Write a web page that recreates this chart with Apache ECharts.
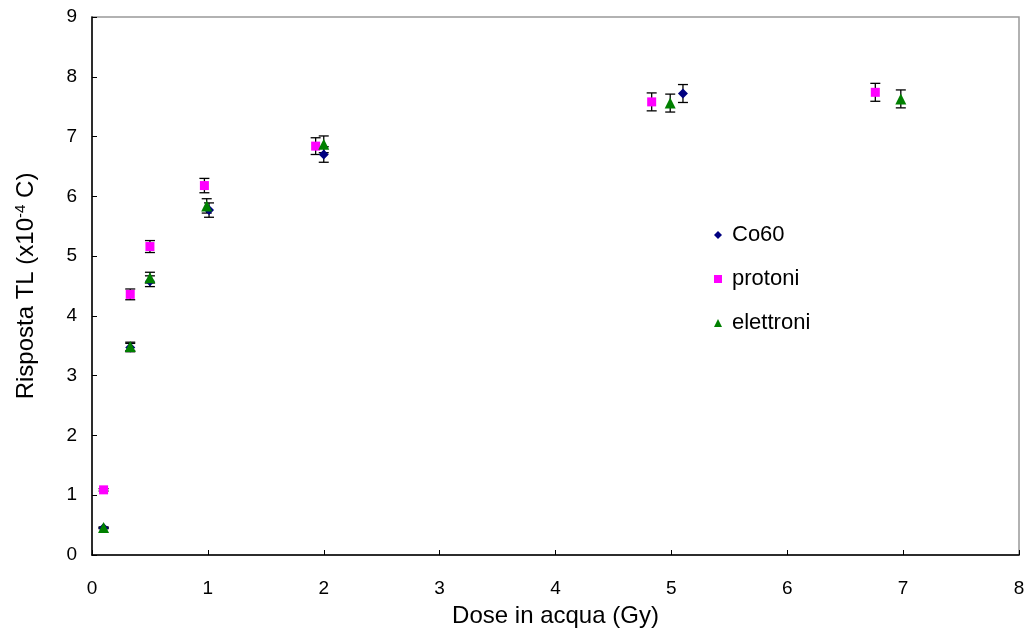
<!DOCTYPE html>
<html>
<head>
<meta charset="utf-8">
<script src="https://cdn.jsdelivr.net/npm/echarts@6/dist/echarts.min.js"></script>
<style>html,body{margin:0;padding:0;background:#fff}#c{width:1030px;height:638px}</style>
</head>
<body>
<div id="c"></div>
<script>
var co60X = [0.10, 0.33, 0.50, 1.01, 2.00, 5.10];
var co60Y = [0.45, 3.47, 4.58, 5.77, 6.70, 7.72];
var co60Err = [0.01, 0.07, 0.09, 0.12, 0.13, 0.15];

var protoniX = [0.10, 0.33, 0.50, 0.97, 1.93, 4.83, 6.76];
var protoniY = [1.09, 4.36, 5.16, 6.18, 6.84, 7.58, 7.74];
var protoniErr = [0.02, 0.09, 0.10, 0.12, 0.14, 0.15, 0.15];

var elettroniX = [0.10, 0.33, 0.50, 0.99, 2.00, 4.99, 6.98];
var elettroniY = [0.46, 3.49, 4.64, 5.84, 6.87, 7.56, 7.63];
var elettroniErr = [0.01, 0.07, 0.09, 0.12, 0.14, 0.15, 0.15];

var xTicks = [0, 1, 2, 3, 4, 5, 6, 7, 8];
var yTicks = [0, 1, 2, 3, 4, 5, 6, 7, 8, 9];

function pts(xs, ys) { return xs.map(function (x, i) { return [x, ys[i]]; }); }
function errPts(xs, ys, es) { return xs.map(function (x, i) { return [x, ys[i], es[i]]; }); }

function errSeries(data) {
  return {
    type: 'custom',
    z: 1,
    silent: true,
    renderItem: function (params, api) {
      var x = api.value(0), y = api.value(1), e = api.value(2);
      var hi = api.coord([x, y + e]);
      var lo = api.coord([x, y - e]);
      var w = 5;
      var st = { stroke: '#000', lineWidth: 1.3 };
      return {
        type: 'group',
        children: [
          { type: 'line', shape: { x1: hi[0], y1: hi[1], x2: lo[0], y2: lo[1] }, style: st },
          { type: 'line', shape: { x1: hi[0] - w, y1: hi[1], x2: hi[0] + w, y2: hi[1] }, style: st },
          { type: 'line', shape: { x1: lo[0] - w, y1: lo[1], x2: lo[0] + w, y2: lo[1] }, style: st }
        ]
      };
    },
    data: data
  };
}

var chart = echarts.init(document.getElementById('c'), null, { renderer: 'canvas' });
var font = 'Liberation Sans, Arial, sans-serif';
chart.setOption({
  animation: false,
  backgroundColor: '#fff',
  textStyle: { fontFamily: font },
  grid: { left: 92, right: 11, top: 17, bottom: 83, show: true, borderColor: '#999', borderWidth: 1.5 },
  legend: {
    orient: 'vertical', left: 709, top: 219, itemGap: 22, itemWidth: 8, itemHeight: 8,
    textStyle: { fontSize: 22, color: '#000', fontFamily: font, padding: [0, 0, 0, 5] },
    data: ['Co60', 'protoni', 'elettroni']
  },
  xAxis: {
    type: 'value', min: 0, max: 8, interval: 1,
    name: 'Dose in acqua (Gy)', nameLocation: 'middle', nameGap: 49,
    nameTextStyle: { fontSize: 24, color: '#000', fontFamily: font },
    axisLine: { lineStyle: { color: '#000', width: 1.5 } },
    axisTick: { inside: true, length: 5, lineStyle: { color: '#000' } },
    axisLabel: { fontSize: 19, color: '#000', margin: 24, fontFamily: font,
      formatter: function (v) { return xTicks.indexOf(v) >= 0 ? String(v) : ''; } },
    splitLine: { show: false }
  },
  yAxis: {
    type: 'value', min: 0, max: 9, interval: 1,
    name: '{n|Risposta TL (x10}{s|-4}{n| C)}', nameLocation: 'middle', nameGap: 52,
    nameTextStyle: { rich: { n: { fontSize: 24, color: '#000', fontFamily: font }, s: { fontSize: 15, color: '#000', fontFamily: font, verticalAlign: 'top', padding: [0, 0, 12, 0] } } },
    axisLine: { lineStyle: { color: '#000', width: 1.5 } },
    axisTick: { inside: true, length: 5, lineStyle: { color: '#000' } },
    axisLabel: { fontSize: 19, color: '#000', margin: 15, fontFamily: font,
      formatter: function (v) { return yTicks.indexOf(v) >= 0 ? String(v) : ''; } },
    splitLine: { show: false }
  },
  series: [
    { name: 'Co60', type: 'scatter', symbol: 'diamond', symbolSize: 10, itemStyle: { color: '#000080', opacity: 1 }, z: 2, data: pts(co60X, co60Y) },
    { name: 'protoni', type: 'scatter', symbol: 'rect', symbolSize: 9, itemStyle: { color: '#FF00FF', opacity: 1 }, z: 3, data: pts(protoniX, protoniY) },
    { name: 'elettroni', type: 'scatter', symbol: 'triangle', symbolSize: 11, itemStyle: { color: '#008000', opacity: 1 }, z: 4, data: pts(elettroniX, elettroniY) },
    errSeries(errPts(co60X, co60Y, co60Err)),
    errSeries(errPts(protoniX, protoniY, protoniErr)),
    errSeries(errPts(elettroniX, elettroniY, elettroniErr))
  ]
});
</script>
</body>
</html>
